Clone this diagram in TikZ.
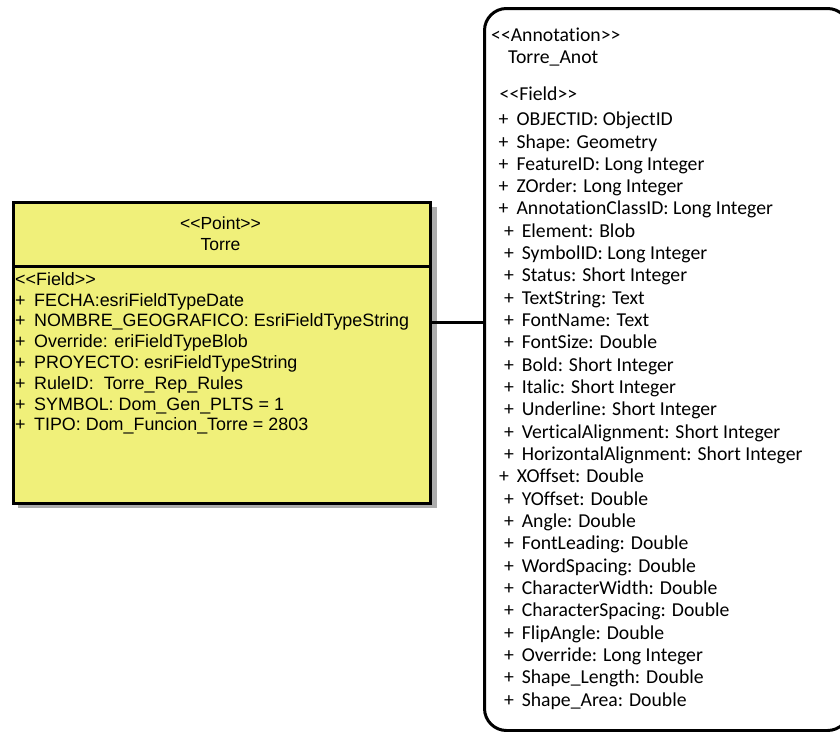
\documentclass[tikz,border=0pt]{standalone}
\usepackage{fontspec}
\setmainfont{Liberation Sans}
\newfontfamily\calibri{Carlito}[Ligatures=NoCommon]
\definecolor{jaune}{RGB}{240,240,122}
\definecolor{ombre}{RGB}{172,172,172}
\newcommand\ChevG{<\kern0pt<}
\newcommand\ChevD{>\kern0pt>}
\newcommand\EspG{\hspace{8.5pt}}
\newcommand\EspD{\hspace{8pt}}
\begin{document}
\begin{tikzpicture}[x=1pt,y=-1pt]
			% Styles (MODIFIABLES)
			\tikzstyle{classe}=[draw,line width=3pt,fill=jaune,inner sep=0pt,anchor=north west]
			\tikzstyle{ombrage}=[fill=ombre,inner sep=0pt,anchor=north west]
			\tikzstyle{anot}=[draw,line width=3pt,rounded corners=22pt,inner sep=0pt,anchor=north west]
			\tikzstyle{titre}=[inner sep=0pt,anchor=base,font=\fontsize{17.5}{20}\selectfont]
			\tikzstyle{champG}=[inner sep=0pt,anchor=base west,font=\fontsize{17.9}{20}\selectfont]
			\tikzstyle{champD}=[inner sep=0pt,anchor=base west,font=\calibri\fontsize{19.7}{22}\selectfont]
			\tikzstyle{lien}=[-,line width=3pt]
			% Dimensions (MODIFIABLES)
			\def\InterLignesG{20.8}
			\def\InterLignesD{22.32}
			% Dimensions calculées (NON MODIFIABLES)
			\def\ColG{15}
			\def\ColDa{498.5}
			\def\ColDb{503.8}
			\def\ColDc{498.8}
			\def\BaseG{306}
			\def\BaseD{125.7}
			% Cadre
			\useasboundingbox (0,0) rectangle (840,731);
			\clip (0,0) rectangle (840,731);
			% Boites (MODIFIABLES : Styles)
			\node[ombrage,minimum width=419pt,minimum height=301pt] (TorreOmbre) at (18,207) {};
			\node[classe,minimum width=417pt,minimum height=301pt] (Torre) at (12,201) {};
			\node[anot,minimum width=365pt,minimum height=722pt] (Anot) at (483,7) {};
			\coordinate (sep) at (0,266);
			\coordinate (sepO) at (0,272);
			\draw[draw=ombre,line width=1.2pt] (Torre.east |- sepO)--(TorreOmbre.east |- sepO);
			\draw[line width=3pt] (Torre.west |- sep)--(Torre.east |- sep);
			%
			% Noeuds : Torre
			\node[titre] (Point) at (220.5,229) {\ChevG Point\ChevD};
			\node[titre] (TorreNom) at (220.5,250) {Torre};
			\node[champG] (ChampsG) at ({\ColG},285) {\ChevG Field\ChevD};
			\node[champG] (FECHA) at ({\ColG},{\BaseG+(0)*\InterLignesG}) {+\EspG FECHA:esriFieldTypeDate};
			\node[champG] (NOMBRE) at ({\ColG},{\BaseG+(1)*\InterLignesG}) {+\EspG NOMBRE\_GEOGRAFICO: EsriFieldTypeString};
			\node[champG] (OVERRIDE) at ({\ColG},{\BaseG+(2)*\InterLignesG}) {+\EspG Override: eriFieldTypeBlob};
			\node[champG] (PROYECTO) at ({\ColG},{\BaseG+(3)*\InterLignesG}) {+\EspG PROYECTO: esriFieldTypeString};
			\node[champG] (RULEID) at ({\ColG},{\BaseG+(4)*\InterLignesG}) {+\EspG RuleID:~ Torre\_Rep\_Rules};
			\node[champG] (SYMBOL) at ({\ColG},{\BaseG+(5)*\InterLignesG}) {+\EspG SYMBOL: Dom\_Gen\_PLTS = 1};
			\node[champG] (TIPO) at ({\ColG},{\BaseG+(6)*\InterLignesG}) {+\EspG TIPO: Dom\_Funcion\_Torre = 2803};
			%
			% Noeuds : Torre_Anot
			\node[champD] (Annotation) at (491,41.7) {\ChevG Annotation\ChevD};
			\node[champD] (AnotNom) at (508,63.3) {Torre\_Anot};
			\node[champD] (ChampsD) at (499.5,100) {\ChevG Field\ChevD};
			\node[champD] (OBJECTID) at ({\ColDa},{\BaseD+(0)*\InterLignesD}) {+\EspD OBJECTID: ObjectID};
			\node[champD] (Shape) at ({\ColDa},{\BaseD+(1)*\InterLignesD}) {+\EspD Shape: Geometry};
			\node[champD] (FeatureID) at ({\ColDa},{\BaseD+(2)*\InterLignesD}) {+\EspD FeatureID: Long Integer};
			\node[champD] (ZOrder) at ({\ColDa},{\BaseD+(3)*\InterLignesD}) {+\EspD ZOrder: Long Integer};
			\node[champD] (ClassID) at ({\ColDa},{\BaseD+(4)*\InterLignesD}) {+\EspD AnnotationClassID: Long Integer};
			\node[champD] (Element) at ({\ColDb},{\BaseD+(5)*\InterLignesD}) {+\EspD Element: Blob};
			\node[champD] (SymbolID) at ({\ColDb},{\BaseD+(6)*\InterLignesD}) {+\EspD SymbolID: Long Integer};
			\node[champD] (Status) at ({\ColDb},{\BaseD+(7)*\InterLignesD}) {+\EspD Status: Short Integer};
			\node[champD] (TextString) at ({\ColDb},{\BaseD+(8)*\InterLignesD}) {+\EspD TextString: Text};
			\node[champD] (FontName) at ({\ColDb},{\BaseD+(9)*\InterLignesD}) {+\EspD FontName: Text};
			\node[champD] (FontSize) at ({\ColDb},{\BaseD+(10)*\InterLignesD}) {+\EspD FontSize: Double};
			\node[champD] (Bold) at ({\ColDb},{\BaseD+(11)*\InterLignesD}) {+\EspD Bold: Short Integer};
			\node[champD] (Italic) at ({\ColDb},{\BaseD+(12)*\InterLignesD}) {+\EspD Italic: Short Integer};
			\node[champD] (Underline) at ({\ColDb},{\BaseD+(13)*\InterLignesD}) {+\EspD Underline: Short Integer};
			\node[champD] (VAlign) at ({\ColDb},{\BaseD+(14)*\InterLignesD}) {+\EspD VerticalAlignment: Short Integer};
			\node[champD] (HAlign) at ({\ColDb},{\BaseD+(15)*\InterLignesD}) {+\EspD HorizontalAlignment: Short Integer};
			\node[champD] (XOffset) at ({\ColDc},{\BaseD+(16)*\InterLignesD}) {+\EspD XOffset: Double};
			\node[champD] (YOffset) at ({\ColDb},{\BaseD+(17)*\InterLignesD}) {+\EspD YOffset: Double};
			\node[champD] (Angle) at ({\ColDb},{\BaseD+(18)*\InterLignesD}) {+\EspD Angle: Double};
			\node[champD] (FontLeading) at ({\ColDb},{\BaseD+(19)*\InterLignesD}) {+\EspD FontLeading: Double};
			\node[champD] (WordSpacing) at ({\ColDb},{\BaseD+(20)*\InterLignesD}) {+\EspD WordSpacing: Double};
			\node[champD] (CharWidth) at ({\ColDb},{\BaseD+(21)*\InterLignesD}) {+\EspD CharacterWidth: Double};
			\node[champD] (CharSpacing) at ({\ColDb},{\BaseD+(22)*\InterLignesD}) {+\EspD CharacterSpacing: Double};
			\node[champD] (FlipAngle) at ({\ColDb},{\BaseD+(23)*\InterLignesD}) {+\EspD FlipAngle: Double};
			\node[champD] (OverrideD) at ({\ColDb},{\BaseD+(24)*\InterLignesD}) {+\EspD Override: Long Integer};
			\node[champD] (ShapeLength) at ({\ColDb},{\BaseD+(25)*\InterLignesD}) {+\EspD Shape\_Length: Double};
			\node[champD] (ShapeArea) at ({\ColDb},{\BaseD+(26)*\InterLignesD}) {+\EspD Shape\_Area: Double};
			%
			% Arcs (MODIFIABLES : Styles)
			\draw[lien] (Torre.east |- NOMBRE)--(Anot.west |- NOMBRE);
\end{tikzpicture}
\end{document}
